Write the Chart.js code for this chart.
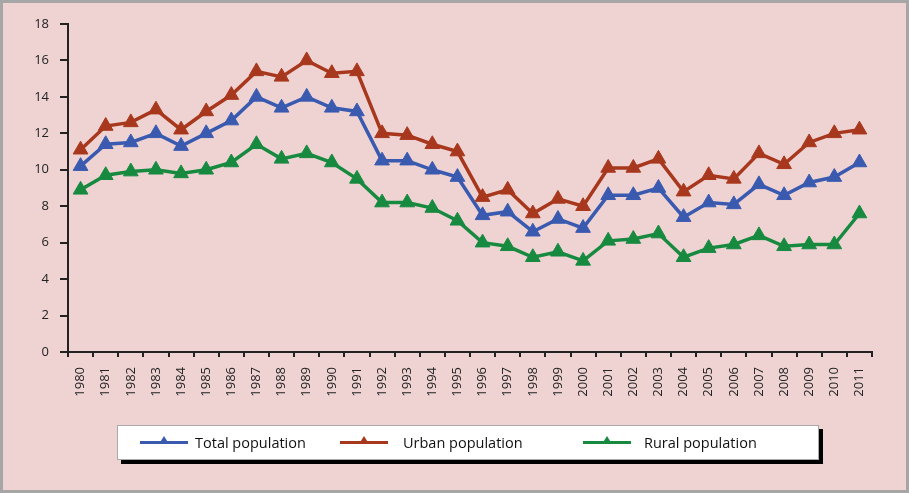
<!DOCTYPE html>
<html>
<head>
<meta charset="utf-8">
<script src="https://cdn.jsdelivr.net/npm/chart.js@4.4.0/dist/chart.umd.min.js"></script>
<style>
  html, body { margin: 0; padding: 0; }
  body { width: 909px; height: 493px; overflow: hidden; }
  #frame { position: absolute; left: 0; top: 0; width: 903px; height: 487px; border: 3px solid #a6a6a6; background: #efd3d3; }
  #wrap { position: absolute; left: 0; top: 0; width: 909px; height: 493px; }
  #legend { position: absolute; left: 117px; top: 425px; width: 700px; height: 33px; background: #fff;
            border: 1px solid #a9a9a9; box-shadow: 4px 4px 0 #000; font-family: "Open Sans", sans-serif;
            font-size: 14.5px; color: #111; }
  .item { position: absolute; top: 0; height: 33px; line-height: 33px; white-space: nowrap; }
  .sw { position: absolute; top: 15px; height: 3px; width: 48px; }
  .tri { position: absolute; left: 19px; top: -5px; width: 0; height: 0; border-left: 5px solid transparent; border-right: 5px solid transparent; }
  .lbl { position: absolute; top: 0; }
</style>
</head>
<body>
<div id="frame"></div>
<div id="wrap"><canvas id="c" width="909" height="493"></canvas></div>
<div id="legend"></div>
<script>
const years = ['1980','1981','1982','1983','1984','1985','1986','1987','1988','1989','1990','1991','1992','1993','1994','1995','1996','1997','1998','1999','2000','2001','2002','2003','2004','2005','2006','2007','2008','2009','2010','2011'];
const totalPopulation = [10.2,11.4,11.5,12.0,11.3,12.0,12.7,14.0,13.4,14.0,13.4,13.2,10.5,10.5,10.0,9.6,7.5,7.7,6.6,7.3,6.8,8.6,8.6,9.0,7.4,8.2,8.1,9.2,8.6,9.3,9.6,10.4];
const urbanPopulation = [11.1,12.4,12.6,13.3,12.2,13.2,14.1,15.4,15.1,16.0,15.3,15.4,12.0,11.9,11.4,11.0,8.5,8.9,7.6,8.4,8.0,10.1,10.1,10.6,8.8,9.7,9.5,10.9,10.3,11.5,12.0,12.2];
const ruralPopulation = [8.9,9.7,9.9,10.0,9.8,10.0,10.4,11.4,10.6,10.9,10.4,9.5,8.2,8.2,7.9,7.2,6.0,5.8,5.2,5.5,5.0,6.1,6.2,6.5,5.2,5.7,5.9,6.4,5.8,5.9,5.9,7.6];
const yTicks = [0,2,4,6,8,10,12,14,16,18];
const seriesNames = ['Total population','Urban population','Rural population'];
const seriesColors = ['#3a5ab0','#a8381d','#178a40'];
const seriesData = [totalPopulation, urbanPopulation, ruralPopulation];

const datasets = seriesNames.map((n, i) => ({
  label: n,
  data: seriesData[i],
  borderColor: seriesColors[i],
  backgroundColor: seriesColors[i],
  borderWidth: 3.5,
  pointStyle: 'triangle',
  pointRadius: 8.5,
  pointBorderWidth: 1,
  pointBackgroundColor: seriesColors[i],
  pointBorderColor: seriesColors[i],
  tension: 0
}));

const font = { family: '"Open Sans", sans-serif', size: 13 };

new Chart(document.getElementById('c'), {
  type: 'line',
  data: { labels: years, datasets: datasets.slice().reverse() },
  options: {
    responsive: false,
    animation: false,
    devicePixelRatio: 1,
    layout: { padding: { left: 0, top: 24, right: 37, bottom: 81 } },
    plugins: { legend: { display: false }, tooltip: { enabled: false } },
    scales: {
      x: {
        type: 'category',
        offset: true,
        grid: { display: true, offset: true, drawOnChartArea: false, color: '#222', lineWidth: 2, tickLength: 5 },
        border: { display: true, color: '#222', width: 2 },
        ticks: { color: '#222', font: font, minRotation: 90, maxRotation: 90, padding: 10, autoSkip: false },
        afterFit: s => { s.height = 60; }
      },
      y: {
        min: 0, max: 18,
        afterBuildTicks: s => { s.ticks = yTicks.map(v => ({ value: v })); },
        grid: { display: true, drawOnChartArea: false, color: '#222', lineWidth: 2, tickLength: 8 },
        border: { display: true, color: '#222', width: 2 },
        ticks: { color: '#222', font: font, padding: 11 },
        afterFit: s => { s.width = 68; }
      }
    }
  }
});

// HTML legend
const leg = document.getElementById('legend');
const pos = [{ l: 22, t: 77 }, { l: 222, t: 285 }, { l: 465, t: 526 }];
seriesNames.forEach((n, i) => {
  const it = document.createElement('div');
  it.className = 'item';
  it.style.left = '0px';
  const sw = document.createElement('div');
  sw.className = 'sw';
  sw.style.left = pos[i].l + 'px';
  sw.style.background = seriesColors[i];
  const tri = document.createElement('div');
  tri.className = 'tri';
  tri.style.borderBottom = '8px solid ' + seriesColors[i];
  sw.appendChild(tri);
  const lb = document.createElement('div');
  lb.className = 'lbl';
  lb.style.left = pos[i].t + 'px';
  lb.textContent = n;
  it.appendChild(sw);
  it.appendChild(lb);
  leg.appendChild(it);
});
</script>
</body>
</html>
